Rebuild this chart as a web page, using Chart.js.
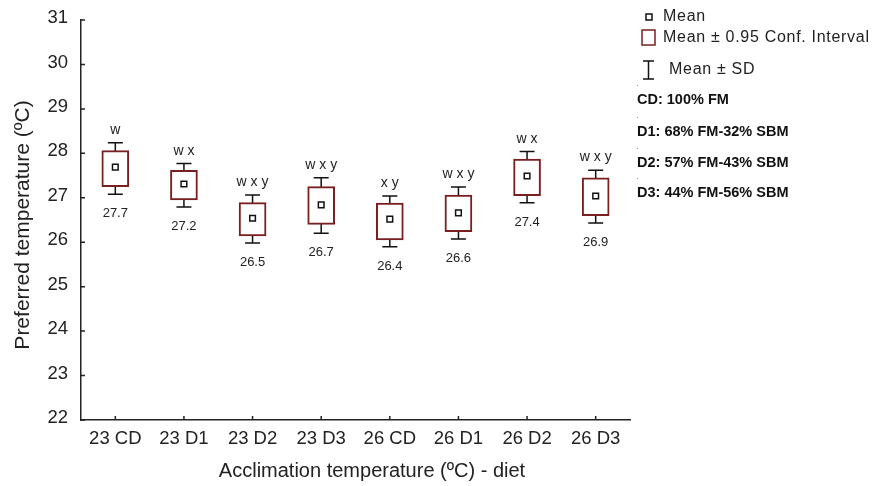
<!DOCTYPE html>
<html>
<head>
<meta charset="utf-8">
<script src="https://cdn.jsdelivr.net/npm/chart.js@4.4.0/dist/chart.umd.min.js"></script>
<style>
  body { margin: 0; background: #fff; }
  #wrap { width: 877px; height: 486px; }
</style>
</head>
<body>
<div id="wrap"><canvas id="myChart" width="877" height="486"></canvas></div>
<script>
// data
const categories = ['23 CD', '23 D1', '23 D2', '23 D3', '26 CD', '26 D1', '26 D2', '26 D3'];
const means  = [27.69, 27.31, 26.54, 26.84, 26.52, 26.66, 27.49, 27.04];
const ciLow  = [27.25, 26.95, 26.14, 26.40, 26.05, 26.24, 27.05, 26.60];
const ciHigh = [28.06, 27.62, 26.89, 27.25, 26.88, 27.06, 27.87, 27.45];
const sdLow  = [27.08, 26.79, 25.98, 26.20, 25.90, 26.07, 26.89, 26.43];
const sdHigh = [28.24, 27.77, 27.06, 27.45, 27.04, 27.24, 28.04, 27.62];
const meanLabels = ['27.7', '27.2', '26.5', '26.7', '26.4', '26.6', '27.4', '26.9'];
const groupLetters = ['w', 'w x', 'w x y', 'w x y', 'x y', 'w x y', 'w x', 'w x y'];
const dietNotes = ['CD: 100% FM', 'D1: 68% FM-32% SBM', 'D2: 57% FM-43% SBM', 'D3: 44% FM-56% SBM'];

const boxColor = '#7a1f1f';
const FONT = '"Liberation Sans", Arial, sans-serif';
const ctx = document.getElementById('myChart');

// whiskers, letters, inward ticks, titles and the side legend
const extras = {
    id: 'extras',
    beforeDatasetsDraw(chart) {
        const c = chart.ctx;
        const { x, y } = chart.scales;
        c.save();
        c.strokeStyle = '#111';
        c.lineWidth = 1.5;
        categories.forEach((cat, i) => {
            const px = x.getPixelForValue(i);
            const top = y.getPixelForValue(sdHigh[i]);
            const bot = y.getPixelForValue(sdLow[i]);
            c.beginPath();
            c.moveTo(px, top); c.lineTo(px, bot);
            c.moveTo(px - 7.5, top); c.lineTo(px + 7.5, top);
            c.moveTo(px - 7.5, bot); c.lineTo(px + 7.5, bot);
            c.stroke();
        });
        c.restore();
    },
    afterDraw(chart) {
        const c = chart.ctx;
        const { x, y } = chart.scales;
        const area = chart.chartArea;
        c.save();

        // letters above, means below
        c.fillStyle = '#222';
        c.textAlign = 'center';
        c.textBaseline = 'alphabetic';
        categories.forEach((cat, i) => {
            const px = x.getPixelForValue(i);
            c.font = '14px ' + FONT;
            c.fillText(groupLetters[i], px, y.getPixelForValue(sdHigh[i]) - 9);
            c.font = '13px ' + FONT;
            c.fillText(meanLabels[i], px, y.getPixelForValue(sdLow[i]) + 23);
        });

        // inward tick marks
        c.strokeStyle = '#222';
        c.lineWidth = 1.5;
        c.beginPath();
        y.ticks.forEach(t => {
            const py = y.getPixelForValue(t.value);
            c.moveTo(area.left, py); c.lineTo(area.left + 4, py);
        });
        categories.forEach((cat, i) => {
            const px = x.getPixelForValue(i);
            c.moveTo(px, area.bottom); c.lineTo(px, area.bottom - 4);
        });
        c.stroke();

        // axis titles
        c.fillStyle = '#222';
        c.font = '20px ' + FONT;
        c.textBaseline = 'middle';
        c.fillText('Acclimation temperature (ºC) - diet', 372, 471);
        c.save();
        c.translate(23, 225);
        c.rotate(-Math.PI / 2);
        c.font = '21px ' + FONT;
        c.fillText('Preferred temperature (ºC)', 0, 0);
        c.restore();

        // legend
        c.lineWidth = 1.5;
        c.strokeStyle = '#111';
        c.fillStyle = '#fff';
        c.fillRect(646, 14, 6, 6);
        c.strokeRect(646, 14, 6, 6);
        c.strokeStyle = boxColor;
        c.strokeRect(642, 30, 13, 15);
        c.strokeStyle = '#111';
        c.beginPath();
        c.moveTo(648.5, 61); c.lineTo(648.5, 79);
        c.moveTo(643, 61); c.lineTo(654, 61);
        c.moveTo(643, 79); c.lineTo(654, 79);
        c.stroke();

        c.fillStyle = '#222';
        c.textAlign = 'left';
        c.font = '16px ' + FONT;
        c.letterSpacing = '0.7px';
        c.fillText('Mean', 663, 17);
        c.fillText('Mean ± 0.95 Conf. Interval', 663, 38);
        c.fillText('Mean ± SD', 669, 70);
        c.letterSpacing = '0px';

        c.font = 'bold 14.5px ' + FONT;
        const noteY = [100, 132, 163, 193];
        dietNotes.forEach((t, i) => {
            c.fillStyle = '#999';
            c.fillRect(637, noteY[i] - 15, 1, 1);
            c.fillStyle = '#111';
            c.fillText(t, 637, noteY[i]);
        });
        c.restore();
    }
};

new Chart(ctx, {
    type: 'bar',
    data: {
        labels: categories,
        datasets: [{
            label: 'Mean ± 0.95 Conf. Interval',
            data: categories.map((c, i) => [ciLow[i], ciHigh[i]]),
            backgroundColor: '#fff',
            borderColor: boxColor,
            borderWidth: 2,
            borderSkipped: false,
            barThickness: 27,
            order: 2
        }, {
            type: 'line',
            label: 'Mean',
            data: means,
            showLine: false,
            pointStyle: 'rect',
            pointRadius: 4,
            pointBackgroundColor: '#fff',
            pointBorderColor: '#111',
            pointBorderWidth: 1.5,
            order: 1
        }]
    },
    options: {
        responsive: false,
        animation: false,
        layout: { padding: { top: 20, right: 247, left: 0, bottom: 0 } },
        plugins: {
            legend: { display: false },
            tooltip: { enabled: false }
        },
        scales: {
            x: {
                offset: true,
                grid: { display: false },
                border: { color: '#222', width: 1.5 },
                ticks: { color: '#222', font: { family: FONT, size: 18.5 }, padding: 0 },
                afterFit: s => { s.height = 66; }
            },
            y: {
                min: 22,
                max: 31,
                grid: { display: false },
                border: { color: '#222', width: 1.5 },
                ticks: { stepSize: 1, color: '#222', font: { family: FONT, size: 18.5 }, padding: 5, labelOffset: -2 },
                afterFit: s => { s.width = 81; }
            }
        }
    },
    plugins: [extras]
});
</script>
</body>
</html>
